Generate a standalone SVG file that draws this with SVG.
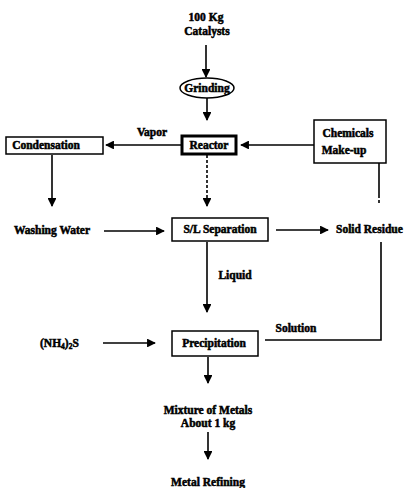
<svg xmlns="http://www.w3.org/2000/svg" width="409" height="488" viewBox="0 0 409 488">
<style>
text{font-family:"Liberation Serif","Times New Roman",serif;font-weight:bold;font-size:11.5px;fill:#000;stroke:#000;stroke-width:0.5;text-anchor:middle}
.box{fill:#fff;stroke:#000;stroke-width:1.5}
.thick{fill:#fff;stroke:#000;stroke-width:3}
.ln{fill:none;stroke:#000;stroke-width:1.6}
.dash{fill:none;stroke:#000;stroke-width:1.6;stroke-dasharray:3 2}
</style>
<defs>
<marker id="ah" viewBox="0 0 10 10" refX="9" refY="5" markerWidth="5.5" markerHeight="5.5" orient="auto" markerUnits="strokeWidth">
<path d="M0,0 L10,5 L0,10 z" fill="#000"/>
</marker>
</defs>
<g id="connectors">
<line class="ln" x1="206" y1="45" x2="206" y2="77" marker-end="url(#ah)"/>
<line class="ln" x1="207" y1="98" x2="207" y2="120" marker-end="url(#ah)"/>
<line class="ln" x1="181" y1="145" x2="106" y2="145" marker-end="url(#ah)"/>
<line class="ln" x1="314" y1="145" x2="241" y2="145" marker-end="url(#ah)"/>
<line class="dash" x1="207" y1="155" x2="207" y2="206" marker-end="url(#ah)"/>
<line class="ln" x1="52" y1="155" x2="52" y2="206" marker-end="url(#ah)"/>
<line class="ln" x1="104" y1="231" x2="164" y2="231" marker-end="url(#ah)"/>
<line class="ln" x1="276" y1="230" x2="328" y2="230" marker-end="url(#ah)"/>
<polyline class="ln" points="379,163 379,195"/>
<line class="dash" x1="379" y1="195" x2="379" y2="205"/>
<polyline class="ln" points="381,242 381,340 265,340"/>
<line class="ln" x1="207" y1="242" x2="207" y2="312" marker-end="url(#ah)"/>
<line class="ln" x1="103" y1="343" x2="155" y2="343" marker-end="url(#ah)"/>
<line class="ln" x1="208" y1="357" x2="208" y2="383" marker-end="url(#ah)"/>
<line class="ln" x1="208" y1="432" x2="208" y2="459" marker-end="url(#ah)"/>
</g>
<g id="catalysts"><text x="206" y="21">100 Kg</text><text x="207" y="35">Catalysts</text></g>
<g id="grinding"><ellipse cx="207" cy="88" rx="27" ry="10" class="box" stroke-width="2"/><text x="207" y="92">Grinding</text></g>
<g id="reactor"><rect x="182" y="136" width="54" height="18" class="thick"/><text x="209" y="149">Reactor</text></g>
<g id="vapor"><text x="152" y="136">Vapor</text></g>
<g id="condensation"><rect x="6" y="137" width="97" height="17" class="box"/><text x="46" y="149">Condensation</text></g>
<g id="chemicals"><rect x="314" y="120" width="72" height="43" class="box"/><text x="348" y="137">Chemicals</text><text x="344" y="154">Make-up</text></g>
<g id="washing"><text x="52" y="234">Washing Water</text></g>
<g id="sl"><rect x="172" y="218" width="96" height="23" class="box"/><text x="220" y="233">S/L Separation</text></g>
<g id="solid"><text x="336" y="233" style="text-anchor:start">Solid Residue</text></g>
<g id="liquid"><text x="235" y="279">Liquid</text></g>
<g id="solution"><text x="296" y="332">Solution</text></g>
<g id="nh4s"><text x="40" y="347" style="text-anchor:start">(NH<tspan font-size="7.5" dy="2">4</tspan><tspan dy="-2">)</tspan><tspan font-size="7.5" dy="2">2</tspan><tspan dy="-2">S</tspan></text></g>
<g id="precipitation"><rect x="172" y="331" width="86" height="25" class="box"/><text x="214" y="347">Precipitation</text></g>
<g id="mixture"><text x="208" y="414">Mixture of Metals</text><text x="208" y="427">About 1 kg</text></g>
<g id="refining"><text x="208" y="486">Metal Refining</text></g>
</svg>
